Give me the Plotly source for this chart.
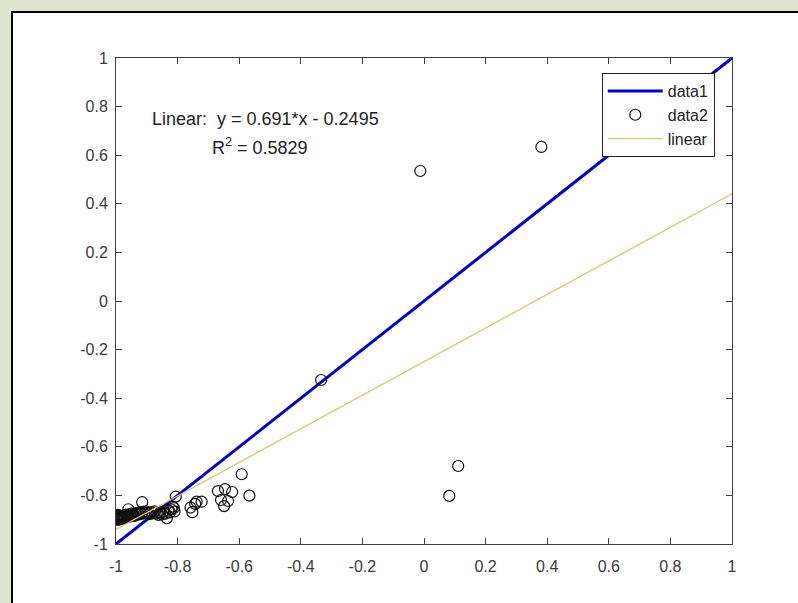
import plotly.graph_objects as go

# identity reference line (data1)
ref_x = [-1, 1]
ref_y = [-1, 1]

# scatter points (data2)
pts_x = [-1.0, -0.998, -0.997, -0.995, -0.994, -0.993, -0.992, -0.99, -0.989, -0.988,
         -0.987, -0.985, -0.984, -0.982, -0.98, -0.978, -0.976, -0.974, -0.972, -0.97,
         -0.968, -0.965, -0.962, -0.96, -0.958, -0.955, -0.952, -0.95, -0.947, -0.944,
         -0.94, -0.937, -0.933, -0.93, -0.926, -0.922, -0.915, -0.918, -0.913, -0.908,
         -0.903, -0.898, -0.892, -0.886, -0.88, -0.874, -0.868, -0.862, -0.856, -0.85,
         -0.847, -0.84, -0.835, -0.83, -0.825, -0.82, -0.816, -0.812, -0.806, -0.81,
         -0.758, -0.752, -0.743, -0.738, -0.722, -0.669, -0.646, -0.623, -0.659, -0.636,
         -0.649, -0.592, -0.567, -0.334, -0.012, 0.082, 0.111, 0.381]
pts_y = [-0.89, -0.895, -0.885, -0.9, -0.89, -0.88, -0.895, -0.89, -0.9, -0.885,
         -0.893, -0.888, -0.897, -0.89, -0.885, -0.895, -0.889, -0.882, -0.893, -0.887,
         -0.879, -0.89, -0.884, -0.857, -0.888, -0.878, -0.886, -0.875, -0.883, -0.879,
         -0.885, -0.874, -0.88, -0.872, -0.878, -0.87, -0.828, -0.876, -0.868, -0.874,
         -0.866, -0.872, -0.877, -0.869, -0.874, -0.866, -0.874, -0.88, -0.87, -0.878,
         -0.868, -0.875, -0.894, -0.862, -0.87, -0.858, -0.846, -0.852, -0.805, -0.866,
         -0.85, -0.869, -0.835, -0.826, -0.826, -0.782, -0.774, -0.786, -0.819, -0.823,
         -0.844, -0.713, -0.801, -0.325, 0.535, -0.802, -0.679, 0.634]

# linear fit
slope = 0.691
intercept = -0.2495
r2 = 0.5829
fit_x = [-1, 1]
fit_y = [slope * v + intercept for v in fit_x]

tick_vals = [-1, -0.8, -0.6, -0.4, -0.2, 0, 0.2, 0.4, 0.6, 0.8, 1]
tick_text = ["-1", "-0.8", "-0.6", "-0.4", "-0.2", "0", "0.2", "0.4", "0.6", "0.8", "1"]

FONT = "Liberation Sans, Arial, sans-serif"

fig = go.Figure()
fig.add_trace(go.Scatter(x=ref_x, y=ref_y, mode="lines", name="data1",
                         line=dict(color="#0000c8", width=3)))
fig.add_trace(go.Scatter(x=pts_x, y=pts_y, mode="markers", name="data2",
                         marker=dict(symbol="circle-open", size=11,
                                     color="#111111", line=dict(width=1.2))))
fig.add_trace(go.Scatter(x=fit_x, y=fit_y, mode="lines", name="linear",
                         line=dict(color="#e3c26a", width=1.3)))

axis_common = dict(
    range=[-1, 1], tickvals=tick_vals, ticktext=tick_text,
    showline=True, linecolor="#404040", linewidth=1, mirror="ticks",
    ticks="inside", ticklen=6, tickcolor="#404040", tickwidth=1,
    showgrid=False, zeroline=False,
    tickfont=dict(family=FONT, size=16, color="#3a3a3a"),
)
fig.update_xaxes(**axis_common, ticklabelstandoff=8)
fig.update_yaxes(**axis_common, ticklabelstandoff=4)

fig.add_annotation(x=-0.514, y=0.749, xref="x", yref="y",
                   text=f"Linear:  y = {slope}*x - {abs(intercept)}",
                   showarrow=False, font=dict(family=FONT, size=18, color="#222222"))
fig.add_annotation(x=-0.532, y=0.634, xref="x", yref="y",
                   text=f"R<sup>2</sup> = {r2}",
                   showarrow=False, font=dict(family=FONT, size=18, color="#222222"))

# figure window frame
fig.add_shape(type="rect", xref="paper", yref="paper", layer="below",
              x0=(12 - 116) / 616, x1=(798 - 116 + 4) / 616,
              y0=-(603 - 544 + 4) / 486, y1=1 + (58 - 12) / 486,
              line=dict(color="black", width=2), fillcolor="white")

fig.update_layout(
    width=798, height=603,
    margin=dict(l=116, r=66, t=58, b=59),
    paper_bgcolor="#dfe4cf", plot_bgcolor="white",
    showlegend=True,
    legend=dict(x=0.972, y=0.969, xanchor="right", yanchor="top",
                bgcolor="white", bordercolor="#222222", borderwidth=1,
                font=dict(family=FONT, size=16, color="#222222"),
                tracegroupgap=0, itemwidth=55),
)

fig.write_html("out.html")
